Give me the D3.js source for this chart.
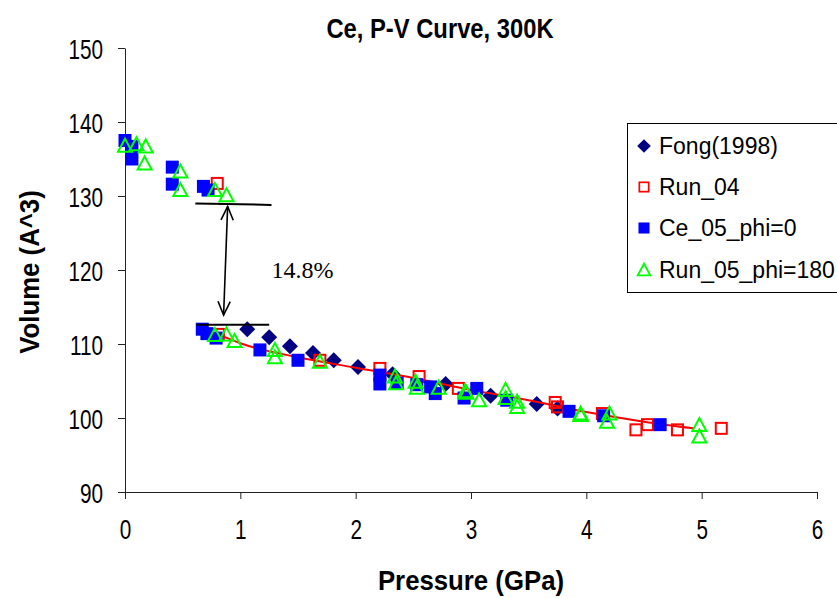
<!DOCTYPE html>
<html>
<head>
<meta charset="utf-8">
<script src="https://cdn.jsdelivr.net/npm/d3@7"></script>
<style>
  body { margin: 0; background: #fff; }
  svg { display: block; font-family: "Liberation Sans", Arial, sans-serif; }
</style>
</head>
<body>
<svg id="chart" width="837" height="598"></svg>
<script>
// Fong (1998) reference data, navy diamonds
var fongP = [1.06, 1.25, 1.43, 1.63, 1.81, 2.02, 2.32, 2.78, 3.17, 3.57, 3.75];
var fongV = [112.0, 110.9, 109.7, 108.8, 107.8, 106.9, 105.9, 104.6, 103.0, 101.9, 101.3];

// Run_04, red open squares
var run04P = [0.80, 0.81, 1.69, 2.21, 2.55, 2.89, 3.73, 3.75, 4.14, 4.43, 4.53, 4.79, 5.17];
var run04V = [131.7, 111.3, 107.8, 106.7, 105.6, 104.0, 102.1, 101.5, 100.6, 98.4, 99.1, 98.4, 98.6];

// red curve through the low-volume phase
var fitP = [0.81, 1.0, 1.5, 2.0, 2.5, 3.0, 3.5, 4.0, 4.5, 4.93];
var fitV = [111.3, 110.1, 108.2, 106.8, 105.4, 103.8, 102.4, 100.8, 99.5, 98.6];

// Ce_05_phi=0, blue filled squares
var ce05P = [0.0, 0.06, 0.06, 0.41, 0.41, 0.68, 0.72, 0.67, 0.71, 0.79, 1.17, 1.50,
             2.21, 2.21, 2.36, 2.53, 2.65, 2.69, 2.94, 3.05, 3.31, 3.85, 4.15, 4.64];
var ce05V = [137.5, 136.7, 135.0, 133.9, 131.6, 131.3, 130.8, 112.0, 111.4, 110.8, 109.2, 107.8,
             105.8, 104.6, 104.7, 104.5, 104.2, 103.3, 102.7, 104.0, 102.4, 100.9, 100.3, 99.1];

// Run_05_phi=180, green open triangles
var run05P = [0.0, 0.10, 0.18, 0.17, 0.48, 0.48, 0.78, 0.88,
              0.78, 0.88, 0.95, 1.30, 1.30, 1.69, 2.34, 2.35, 2.52, 2.53, 2.72, 2.95, 2.96,
              3.07, 3.30, 3.30, 3.40, 3.40, 3.95, 3.95, 4.18, 4.20, 4.98, 4.98];
var run05V = [136.8, 137.0, 136.7, 134.4, 133.3, 130.8, 130.8, 130.1,
              111.2, 111.3, 110.4, 109.2, 108.2, 107.6, 105.6, 104.7, 104.9, 104.1, 104.1, 103.6, 103.4,
              102.4, 103.8, 102.7, 102.2, 101.5, 100.4, 100.6, 99.5, 100.6, 99.05, 97.5];

var xTicks = [0, 1, 2, 3, 4, 5, 6];
var yTicks = [90, 100, 110, 120, 130, 140, 150];
var legendNames = ["Fong(1998)", "Run_04", "Ce_05_phi=0", "Run_05_phi=180"];

var svg = d3.select("#chart");

var x = d3.scaleLinear().domain([0, 6]).range([125, 817]);
var y = d3.scaleLinear().domain([90, 150]).range([492, 48]);

function pts(P, V) {
    return P.map(function(p, i) { return {p: p, v: V[i]}; });
}

// squeeze text horizontally, the chart font is a narrow face
function condense(sel, f) {
    sel.each(function() {
        var w = this.getComputedTextLength();
        d3.select(this).attr("textLength", w * f).attr("lengthAdjust", "spacingAndGlyphs");
    });
}

// axes
var xAxis = svg.append("g")
    .attr("transform", "translate(0," + y(90) + ")")
    .call(d3.axisBottom(x).tickValues(xTicks).tickSize(7).tickSizeOuter(0).tickFormat(d3.format("d")));
var yAxis = svg.append("g")
    .attr("transform", "translate(" + x(0) + ",0)")
    .call(d3.axisLeft(y).tickValues(yTicks).tickSize(7).tickSizeOuter(0).tickFormat(d3.format("d")));

[xAxis, yAxis].forEach(function(a) {
    a.attr("font-family", null).attr("font-size", null);
    a.selectAll("path, line").attr("stroke", "#222").attr("stroke-width", 1);
    a.selectAll("text").attr("font-size", 28).attr("fill", "#000");
});
xAxis.selectAll("text").attr("y", 26).attr("dy", "0.76em");
yAxis.selectAll("text").attr("x", -22).attr("dy", "0.36em");
condense(xAxis.selectAll("text"), 0.74);
condense(yAxis.selectAll("text"), 0.74);

// titles
svg.append("text")
    .attr("x", 440).attr("y", 38).attr("text-anchor", "middle")
    .attr("font-size", 27).attr("font-weight", "bold")
    .text("Ce, P-V Curve, 300K")
    .call(condense, 0.88);
svg.append("text")
    .attr("x", 471).attr("y", 590).attr("text-anchor", "middle")
    .attr("font-size", 28).attr("font-weight", "bold")
    .text("Pressure (GPa)")
    .call(condense, 0.92);
svg.append("text")
    .attr("transform", "translate(39,272) rotate(-90)").attr("text-anchor", "middle")
    .attr("font-size", 28).attr("font-weight", "bold")
    .text("Volume (A^3)")
    .call(condense, 0.92);

// symbol painters
var S = 13;
function diamond(sel) {
    sel.append("path").attr("d", "M0,-8L8,0L0,8L-8,0Z").attr("fill", "#000080");
}
function openSquare(sel) {
    sel.append("rect").attr("x", -S / 2 + 1).attr("y", -S / 2 + 1).attr("width", S - 2).attr("height", S - 2)
        .attr("fill", "none").attr("stroke", "#ff0000").attr("stroke-width", 2);
}
function fillSquare(sel) {
    sel.append("rect").attr("x", -S / 2).attr("y", -S / 2).attr("width", S).attr("height", S)
        .attr("fill", "#0000ff");
}
function triangle(sel) {
    sel.append("path").attr("d", "M0,-7L7,6L-7,6Z")
        .attr("fill", "none").attr("stroke", "#00ff00").attr("stroke-width", 2);
}

function series(data, painter) {
    var g = svg.append("g").selectAll("g").data(data).enter().append("g")
        .attr("transform", function(d) { return "translate(" + x(d.p) + "," + y(d.v) + ")"; });
    painter(g);
}

series(pts(fongP, fongV), diamond);

svg.append("path")
    .datum(pts(fitP, fitV))
    .attr("fill", "none").attr("stroke", "#ff0000").attr("stroke-width", 2)
    .attr("d", d3.line().curve(d3.curveMonotoneX).x(function(d) { return x(d.p); }).y(function(d) { return y(d.v); }));

series(pts(run04P, run04V), openSquare);
series(pts(ce05P, ce05V), fillSquare);
series(pts(run05P, run05V), triangle);

// transition annotation
var ann = svg.append("g").attr("stroke", "#000").attr("stroke-width", 2).attr("fill", "none");
ann.append("line").attr("x1", x(0.61)).attr("x2", x(1.27)).attr("y1", y(129.0)).attr("y2", y(128.8));
ann.append("line").attr("x1", x(0.62)).attr("x2", x(1.25)).attr("y1", y(112.6)).attr("y2", y(112.6));
var ax1 = x(0.89), ay1 = y(128.6), ax2 = x(0.855), ay2 = y(113.9);
ann.append("line").attr("x1", ax1).attr("y1", ay1).attr("x2", ax2).attr("y2", ay2).attr("stroke-width", 1.6);
var ang = Math.atan2(ay2 - ay1, ax2 - ax1);
function head(px, py, a) {
    var L = 15, w = 0.42;
    ann.append("path").attr("stroke-width", 1.6)
        .attr("d", "M" + (px - L * Math.cos(a - w)) + "," + (py - L * Math.sin(a - w)) +
            "L" + px + "," + py +
            "L" + (px - L * Math.cos(a + w)) + "," + (py - L * Math.sin(a + w)));
}
head(ax2, ay2, ang);
head(ax1, ay1, ang + Math.PI);
svg.append("text")
    .attr("x", x(1.27)).attr("y", y(118.9))
    .attr("font-family", "'Liberation Serif', 'Times New Roman', serif").attr("font-size", 24)
    .text("14.8%");

// legend
var leg = svg.append("g");
leg.append("rect").attr("x", 627.5).attr("y", 123.5).attr("width", 230).attr("height", 169)
    .attr("fill", "#fff").attr("stroke", "#000").attr("stroke-width", 1);
var painters = [diamond, openSquare, fillSquare, triangle];
var legY = [146, 187, 228, 270];
legendNames.forEach(function(name, i) {
    var g = leg.append("g").attr("transform", "translate(644," + legY[i] + ")");
    var m = g.append("g").attr("transform", i === 3 ? "scale(0.9)" : "scale(0.85)");
    painters[i](m);
    g.append("text").attr("x", 15).attr("y", 0).attr("dy", "0.36em")
        .attr("font-size", 23)
        .text(name);
});
</script>
</body>
</html>
